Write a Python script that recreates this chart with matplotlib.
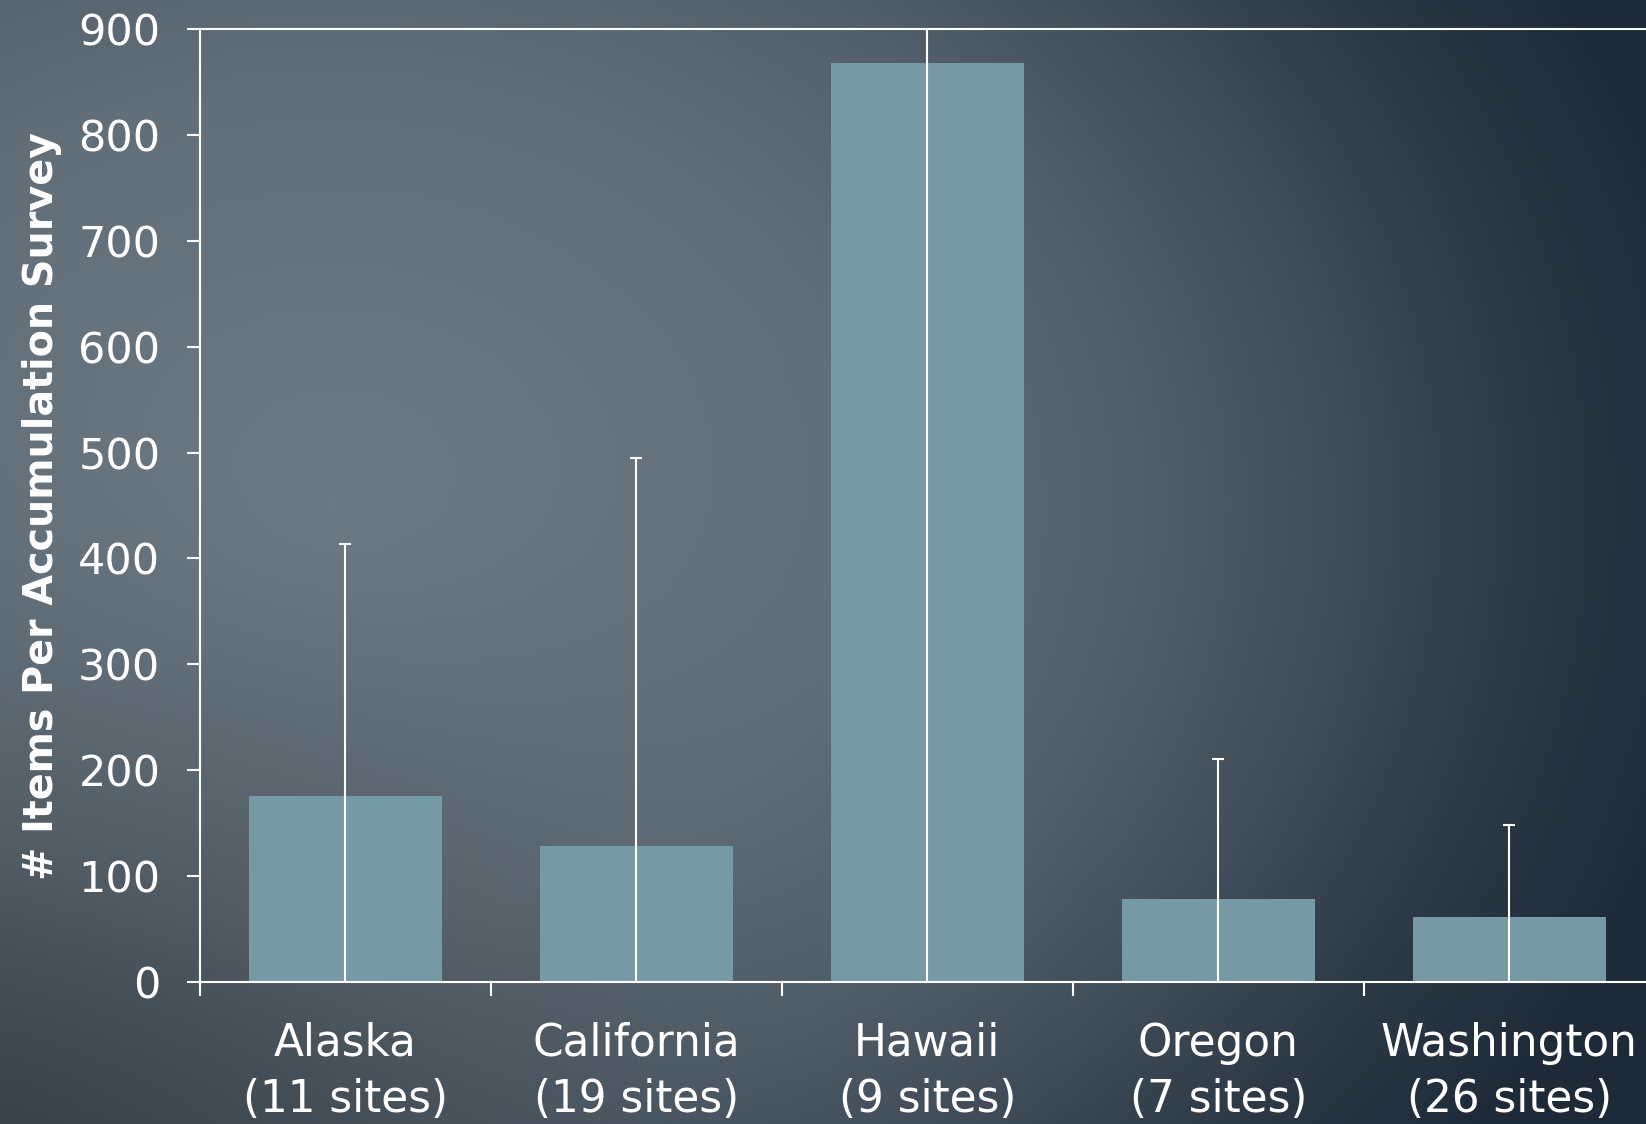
import numpy as np
import matplotlib
matplotlib.use("Agg")
import matplotlib.pyplot as plt
from matplotlib.colors import LinearSegmentedColormap

# ---- data ----
states = ["Alaska", "California", "Hawaii", "Oregon", "Washington"]
sites = ["(11 sites)", "(19 sites)", "(9 sites)", "(7 sites)", "(26 sites)"]
means = [175, 128, 868, 78, 61]
sds = [239, 367, 900, 132, 87]
yticks = [0, 100, 200, 300, 400, 500, 600, 700, 800, 900]

W, H = 1646, 1124
fig = plt.figure(figsize=(W / 100, H / 100), dpi=100)

# ---- background gradient ----
bg = fig.add_axes([0, 0, 1, 1], zorder=-10)
bg.axis("off")
yy, xx = np.mgrid[0:H, 0:W]
cx, cy = 0.2 * W, 0.45 * H
d = np.sqrt(((xx - cx) / (0.65 * W)) ** 2 + ((yy - cy) / (0.75 * H)) ** 2)
t = np.clip(d / 1.3, 0, 1)
cmap = LinearSegmentedColormap.from_list(
    "bg", [(0.0, "#6e7b85"), (0.5 / 1.3, "#626f79"), (0.75 / 1.3, "#53606b"),
           (0.95 / 1.3, "#404d59"), (1.12 / 1.3, "#2d3a46"), (1.0, "#1f2b39")])
img = cmap(t)[..., :3]
# darker bottom-left corner
r = np.sqrt((xx / (0.35 * W)) ** 2 + ((H - yy) / (0.35 * H)) ** 2)
vig = 1 - 0.28 * np.exp(-r ** 2)
img = img * vig[..., None]
bg.imshow(img, aspect="auto", extent=[0, 1, 0, 1], interpolation="bilinear")
bg.set_xlim(0, 1)
bg.set_ylim(0, 1)

FONT = "DejaVu Sans"

# ---- main axes ----
ax = fig.add_axes([0.1215, 0.1267, 0.8785, 0.8471])
ax.patch.set_alpha(0)
x = np.arange(len(states))
ax.bar(x, means, width=0.665, color="#7699a6", zorder=2)
ax.errorbar(x, means, yerr=sds, fmt="none", ecolor="white", elinewidth=1.5,
            capsize=4.5, capthick=1.5, zorder=3)
ax.set_ylim(0, 900)
ax.set_xlim(-0.5, 4.47)
ax.set_yticks(yticks)
ax.set_yticklabels([str(v) for v in yticks])

for s in ["left", "bottom", "top"]:
    ax.spines[s].set_color("white")
    ax.spines[s].set_linewidth(1.5)
ax.spines["right"].set_visible(False)

ax.tick_params(axis="y", colors="white", labelcolor="white", length=9.5, width=1.5,
               labelsize=31, pad=19)
ax.set_xticks(x)
ax.set_xticklabels([f"{s}\n{n}" for s, n in zip(states, sites)], fontsize=31.5,
                   color="white", linespacing=1.38)
ax.tick_params(axis="x", length=0, pad=29)
# category boundary ticks
ax.set_xticks(np.arange(-0.5, 4.0, 1.0), minor=True)
ax.tick_params(axis="x", which="minor", length=10, width=1.5, colors="white")

for lab in ax.get_yticklabels() + ax.get_xticklabels():
    lab.set_fontfamily(FONT)

ax.set_ylabel("# Items Per Accumulation Survey", fontsize=28.5, fontweight="bold",
              color="white", fontfamily=FONT)
ax.yaxis.set_label_coords(-0.0955, 0.5)

fig.savefig("out.png", dpi=100)
